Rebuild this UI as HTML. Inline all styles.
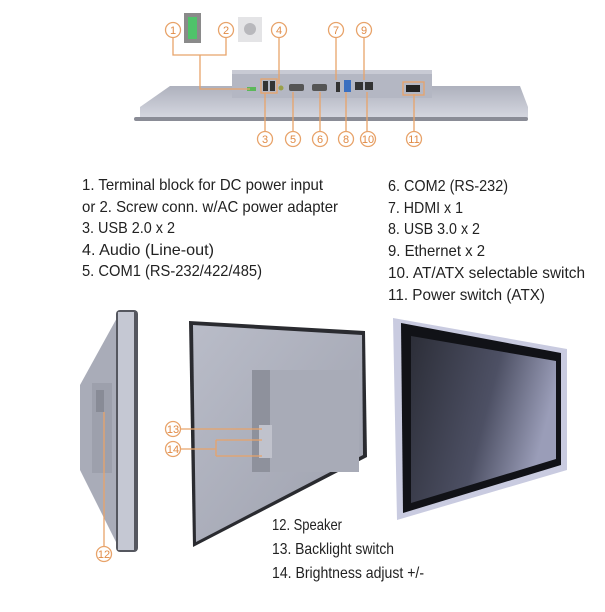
<!DOCTYPE html>
<html><head><meta charset="utf-8"><style>
html,body{margin:0;padding:0;background:#fff;}
svg{display:block;}
text{font-family:"Liberation Sans",sans-serif;font-size:16px;fill:#222;}
.c circle{fill:#fff;stroke:#e8a36a;stroke-width:1.3;}
.c text{font-size:11px;fill:#e08a45;text-anchor:middle;}
.ln{stroke:#e8a36a;stroke-width:1.3;fill:none;}
</style></head><body>
<svg width="605" height="612" viewBox="0 0 605 612" xmlns="http://www.w3.org/2000/svg">
<defs>
<linearGradient id="scr" x1="0" y1="0" x2="1" y2="0.3">
<stop offset="0" stop-color="#2c2e38"/><stop offset="0.6" stop-color="#4d5064"/><stop offset="1" stop-color="#9a9db8"/></linearGradient>
<linearGradient id="met" x1="0" y1="0" x2="1" y2="1">
<stop offset="0" stop-color="#b9bcc8"/><stop offset="1" stop-color="#9ea1ae"/></linearGradient>
<linearGradient id="slab" x1="0" y1="0" x2="0" y2="1">
<stop offset="0" stop-color="#aeb1bd"/><stop offset="1" stop-color="#d5d7e0"/></linearGradient>
</defs>

<!-- top view -->
<rect x="184" y="13" width="17" height="30" fill="#8a8a8a"/>
<rect x="188" y="17" width="9" height="22" fill="#4fc36a"/>
<rect x="238" y="17" width="24" height="25" fill="#e4e4e6"/>
<circle cx="250" cy="29" r="6" fill="#b8b8bc"/>
<polygon points="140,107 170,86 520,86 528,107 528,118 140,118" fill="url(#slab)"/>
<rect x="134" y="117" width="394" height="4" rx="2" fill="#8a8c96"/>
<rect x="232" y="70" width="200" height="28" fill="#b4b7c3"/>
<rect x="232" y="70" width="200" height="4" fill="#c8cad4"/>
<rect x="247" y="87" width="9" height="4" fill="#5bb85a"/>
<rect x="263" y="81" width="5" height="10" fill="#333"/><rect x="270" y="81" width="5" height="10" fill="#333"/>
<circle cx="281" cy="88" r="2.5" fill="#9aa04a"/>
<rect x="289" y="84" width="15" height="7" rx="2" fill="#555"/>
<rect x="312" y="84" width="15" height="7" rx="2" fill="#555"/>
<rect x="336" y="82" width="4" height="10" fill="#333"/>
<rect x="344" y="80" width="7" height="12" fill="#3a6fc0"/>
<rect x="355" y="82" width="8" height="8" fill="#333"/><rect x="365" y="82" width="8" height="8" fill="#333"/>
<rect x="406" y="85" width="14" height="7" fill="#222"/>
<g class="ln">
<path d="M173,38 V55 H226 V38"/><path d="M200,55 V89 H250"/>
<path d="M279,38 V84"/><path d="M336,38 V80"/><path d="M364,38 V80"/>
<path d="M265,131 V93"/><path d="M293,131 V92"/><path d="M320,131 V92"/><path d="M346,131 V92"/><path d="M367,131 V92"/><path d="M414,131 V94"/>
<rect x="261" y="79" width="16" height="14"/><rect x="403" y="82" width="21" height="13"/>
</g>
<g class="c">
<circle cx="173" cy="30" r="7.5"/><text x="173" y="34">1</text>
<circle cx="226" cy="30" r="7.5"/><text x="226" y="34">2</text>
<circle cx="279" cy="30" r="7.5"/><text x="279" y="34">4</text>
<circle cx="336" cy="30" r="7.5"/><text x="336" y="34">7</text>
<circle cx="364" cy="30" r="7.5"/><text x="364" y="34">9</text>
<circle cx="265" cy="139" r="7.5"/><text x="265" y="143">3</text>
<circle cx="293" cy="139" r="7.5"/><text x="293" y="143">5</text>
<circle cx="320" cy="139" r="7.5"/><text x="320" y="143">6</text>
<circle cx="346" cy="139" r="7.5"/><text x="346" y="143">8</text>
<circle cx="368" cy="139" r="7.5"/><text x="368" y="143">10</text>
<circle cx="414" cy="139" r="7.5"/><text x="414" y="143">11</text>
</g>

<!-- text -->
<text x="82" y="190" textLength="241" lengthAdjust="spacingAndGlyphs">1. Terminal block for DC power input</text>
<text x="82" y="212" textLength="256" lengthAdjust="spacingAndGlyphs">or 2. Screw conn. w/AC power adapter</text>
<text x="82" y="233" textLength="93" lengthAdjust="spacingAndGlyphs">3. USB 2.0 x 2</text>
<text x="82" y="255" textLength="132" lengthAdjust="spacingAndGlyphs">4. Audio (Line-out)</text>
<text x="82" y="276" textLength="180" lengthAdjust="spacingAndGlyphs">5. COM1 (RS-232/422/485)</text>
<text x="388" y="191" textLength="120" lengthAdjust="spacingAndGlyphs">6. COM2 (RS-232)</text>
<text x="388" y="213" textLength="75" lengthAdjust="spacingAndGlyphs">7. HDMI x 1</text>
<text x="388" y="234" textLength="92" lengthAdjust="spacingAndGlyphs">8. USB 3.0 x 2</text>
<text x="388" y="256" textLength="97" lengthAdjust="spacingAndGlyphs">9. Ethernet x 2</text>
<text x="388" y="278" textLength="197" lengthAdjust="spacingAndGlyphs">10. AT/ATX selectable switch</text>
<text x="388" y="300" textLength="157" lengthAdjust="spacingAndGlyphs">11. Power switch (ATX)</text>

<!-- side view -->
<polygon points="118,316 80,385 80,470 118,546" fill="#a9acb8"/>
<rect x="92" y="383" width="20" height="90" fill="#9da0ac"/>
<rect x="96" y="390" width="8" height="22" fill="#888b96"/>
<rect x="116" y="310" width="22" height="242" rx="4" fill="#55575f"/>
<rect x="118" y="312" width="16" height="238" fill="#c5c8d3"/>
<path class="ln" d="M104,412 V546"/>
<g class="c"><circle cx="104" cy="554" r="7.5"/><text x="104" y="558">12</text></g>

<!-- back view -->
<polygon points="189,321 365,331 367,457 193,547" fill="#2a2b30"/>
<polygon points="193,325 362,335 363,455 196,542" fill="url(#met)"/>
<rect x="252" y="370" width="107" height="102" fill="#a8abb7"/>
<rect x="252" y="370" width="18" height="102" fill="#8e919c"/>
<rect x="259" y="425" width="13" height="33" fill="#c0c2cc"/>
<path class="ln" d="M181,429 H262 M181,449 H216 M216,440 V456 M216,440 H262 M216,456 H262"/>
<g class="c"><circle cx="173" cy="429" r="7.5"/><text x="173" y="433">13</text>
<circle cx="173" cy="449" r="7.5"/><text x="173" y="453">14</text></g>

<!-- front view -->
<polygon points="393,318 567,349 567,470 397,520" fill="#c9cbe0"/>
<polygon points="401,323 561,353 561,465 403,513" fill="#111217"/>
<polygon points="411,336 556,361 556,459 411,503" fill="url(#scr)"/>

<text x="272" y="530" textLength="70" lengthAdjust="spacingAndGlyphs">12. Speaker</text>
<text x="272" y="554" textLength="122" lengthAdjust="spacingAndGlyphs">13. Backlight switch</text>
<text x="272" y="578" textLength="152" lengthAdjust="spacingAndGlyphs">14. Brightness adjust +/-</text>
</svg>
</body></html>
